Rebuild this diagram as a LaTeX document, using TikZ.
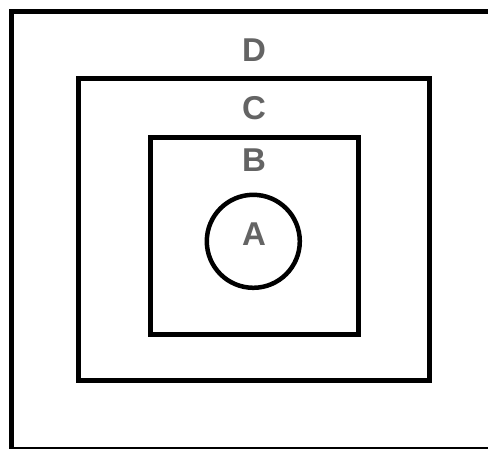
\documentclass[tikz,border=0pt]{standalone}
\usepackage{fontspec}
\setmainfont{Liberation Sans}
\definecolor{lblgray}{RGB}{100,100,100}
\begin{document}
\begin{tikzpicture}[x=1pt,y=-1pt,
  frame/.style={draw=black,line width=5pt,rectangle,inner sep=0pt},
  ring/.style={draw=black,line width=4.5pt,circle,inner sep=0pt},
  lbl/.style={text=lblgray,font=\bfseries\fontsize{33}{33}\selectfont,anchor=base,inner sep=0pt}]
\clip (0,0) rectangle (488,448);
\fill[white] (0,0) rectangle (488,448);
\node[frame,minimum width=479.5pt,minimum height=438pt] (D) at (251.25,230.5) {};
\node[frame,minimum width=351pt,minimum height=301.5pt] (C) at (254,229.25) {};
\node[frame,minimum width=208pt,minimum height=197pt] (B) at (254,235.5) {};
\node[ring,minimum size=93pt] (A) at (253.3,241.3) {};
\node[lbl] (tD) at (254,61.7) {D};
\node[lbl] (tC) at (254,119.8) {C};
\node[lbl] (tB) at (254,171.7) {B};
\node[lbl] (tA) at (254,245) {A};
\end{tikzpicture}
\end{document}
